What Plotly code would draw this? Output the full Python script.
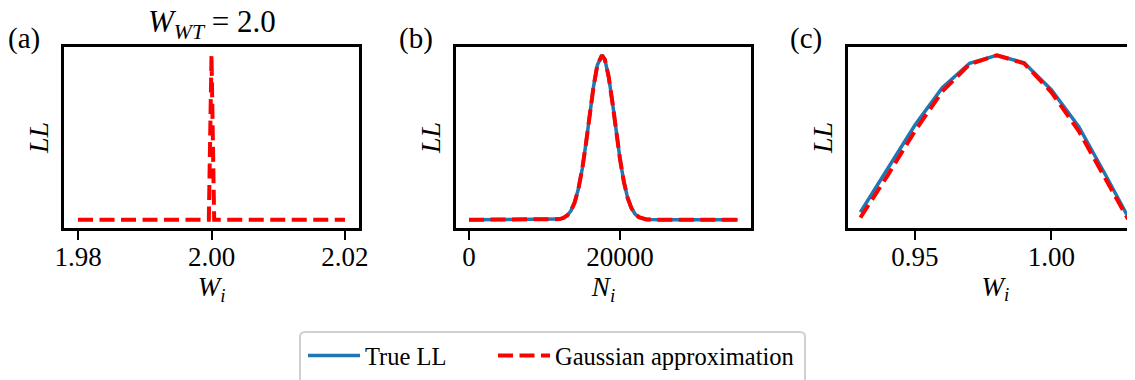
# Likelihood profiles: true LL versus its Gaussian approximation, three panels
import plotly.graph_objects as go

# (a) W_i around W_WT = 2.0 -- only the Gaussian approximation is visible
w_a = [1.98, 1.9996, 2.0, 2.0004, 2.02]
gauss_a = [0.0, 0.0, 1.0, 0.0, 0.0]

# (b) N_i
n_b = [0, 4000, 8000, 10000, 11000, 11500, 12000, 12500, 13000, 13500, 14000,
       14500, 15000, 15500, 16000, 16500, 17000, 17500, 17600, 18000, 18500,
       19000, 19500, 20000, 20500, 21000, 21500, 22000, 22500, 23000, 23500,
       24000, 24500, 26000, 30000, 35600]
true_b = [0.0, 0.0, 0.0, 0.0, 0.001, 0.002, 0.004, 0.011, 0.026, 0.055, 0.106,
          0.19, 0.31, 0.466, 0.642, 0.811, 0.94, 0.998, 1.0, 0.973, 0.869,
          0.712, 0.535, 0.369, 0.233, 0.135, 0.072, 0.035, 0.016, 0.007, 0.002,
          0.001, 0.0, 0.0, 0.0, 0.0]
gauss_b = [0.0, 0.0, 0.0, 0.0, 0.001, 0.002, 0.004, 0.011, 0.026, 0.055, 0.106,
           0.19, 0.31, 0.466, 0.642, 0.811, 0.94, 0.998, 1.0, 0.973, 0.869,
           0.712, 0.535, 0.369, 0.233, 0.135, 0.072, 0.035, 0.016, 0.007, 0.002,
           0.001, 0.0, 0.0, 0.0, 0.0]

# (c) W_i around the maximum
w_c = [0.93, 0.94, 0.95, 0.96, 0.97, 0.98, 0.99, 1.00, 1.01, 1.02, 1.028]
true_c = [0.046, 0.309, 0.576, 0.803, 0.951, 1.0, 0.954, 0.789, 0.566, 0.266, 0.019]
gauss_c = [0.013, 0.27, 0.54, 0.78, 0.945, 1.0, 0.95, 0.775, 0.539, 0.24, 0.005]

BLUE = "#1f77b4"
RED = "#ff0000"
DASH = "15px,6.5px"
FONT = "Liberation Serif"
W, H = 1135, 380
OFF = 8  # page body margin pushes the plot 8px right and down


def px_x(p):
    return (p - OFF) / W


def px_y(p):
    return 1 - (p - OFF) / H


fig = go.Figure()

# panel (a)
fig.add_trace(go.Scatter(x=w_a, y=gauss_a, mode="lines", xaxis="x", yaxis="y",
                         line=dict(color=RED, width=4, dash=DASH), showlegend=False))
# panel (b)
fig.add_trace(go.Scatter(x=n_b, y=true_b, mode="lines", xaxis="x2", yaxis="y2",
                         name="True LL", legend="legend",
                         line=dict(color=BLUE, width=3.5)))
fig.add_trace(go.Scatter(x=n_b, y=gauss_b, mode="lines", xaxis="x2", yaxis="y2",
                         name="Gaussian approximation", legend="legend2",
                         line=dict(color=RED, width=4, dash=DASH)))
# panel (c)
fig.add_trace(go.Scatter(x=w_c, y=true_c, mode="lines", xaxis="x3", yaxis="y3",
                         line=dict(color=BLUE, width=3.5), showlegend=False))
fig.add_trace(go.Scatter(x=w_c, y=gauss_c, mode="lines", xaxis="x3", yaxis="y3",
                         line=dict(color=RED, width=4, dash=DASH), showlegend=False))

ydom = [px_y(228), px_y(47)]
xax = dict(showline=True, linecolor="black", linewidth=2.5, mirror=True,
           ticks="outside", ticklen=9, tickwidth=2, tickcolor="black",
           showgrid=False, zeroline=False, automargin=False,
           ticklabelstandoff=-6,
           tickfont=dict(family=FONT, size=27, color="black"),
           title_font=dict(family=FONT, size=27, color="black"))
yax = dict(showline=True, linecolor="black", linewidth=2.5, mirror=True,
           ticks="", showticklabels=False, showgrid=False, zeroline=False,
           automargin=False, range=[-0.05, 1.05], domain=ydom,
           title_font=dict(family=FONT, size=28, color="black"),
           title_standoff=5)

leg = dict(orientation="h", xanchor="left", yanchor="top",
           bgcolor="rgba(0,0,0,0)", borderwidth=0,
           font=dict(family=FONT, size=24.5, color="black"), itemwidth=52)

fig.update_layout(
    width=W, height=H, autosize=False,
    margin=dict(l=0, r=0, t=0, b=0, autoexpand=False),
    paper_bgcolor="white", plot_bgcolor="white",
    font=dict(family=FONT, color="black"),
    xaxis=dict(xax, domain=[px_x(64), px_x(359)], range=[1.9779, 2.0221],
               tickvals=[1.98, 2.00, 2.02], tickformat=".2f", anchor="y",
               title=dict(text="<i>W</i><sub><i>i</i></sub>", standoff=6)),
    yaxis=dict(yax, anchor="x", title=dict(text="<i>LL</i>")),
    xaxis2=dict(xax, domain=[px_x(456), px_x(751)], range=[-1722, 37351],
                tickvals=[0, 20000], tickformat="d", anchor="y2",
                title=dict(text="<i>N</i><sub><i>i</i></sub>", standoff=6)),
    yaxis2=dict(yax, anchor="x2", title=dict(text="<i>LL</i>")),
    xaxis3=dict(xax, domain=[px_x(847.7), 1.0], range=[0.92535, 1.03352],
                tickvals=[0.95, 1.00], tickformat=".2f", anchor="y3",
                title=dict(text="<i>W</i><sub><i>i</i></sub>", standoff=6)),
    yaxis3=dict(yax, anchor="x3", mirror=False, title=dict(text="<i>LL</i>")),
    legend=dict(leg, x=px_x(303), y=px_y(333)),
    legend2=dict(leg, x=px_x(493), y=px_y(333)),
)

# legend frame around both legend groups (rounded light grey box)
x0, x1, y0, y1, r = px_x(300), px_x(805), px_y(332), px_y(392), 5
rx, ry = r / W, r / H
frame = (f"M {x0 + rx},{y0} L {x1 - rx},{y0} Q {x1},{y0} {x1},{y0 - ry} "
         f"L {x1},{y1 + ry} Q {x1},{y1} {x1 - rx},{y1} L {x0 + rx},{y1} "
         f"Q {x0},{y1} {x0},{y1 + ry} L {x0},{y0 - ry} Q {x0},{y0} {x0 + rx},{y0} Z")
fig.add_shape(type="path", path=frame, xref="paper", yref="paper",
              line=dict(color="#d0d0d0", width=2), layer="above")

labels = [("(a)", 23.5), ("(b)", 415.5), ("(c)", 806)]
for txt, xc in labels:
    fig.add_annotation(text=txt, x=px_x(xc), y=px_y(38), xref="paper", yref="paper",
                       xanchor="center", yanchor="middle", showarrow=False,
                       font=dict(family=FONT, size=29, color="black"))

fig.add_annotation(text="<i>W</i><sub><i>WT</i></sub> = 2.0", x=px_x(211.5), y=px_y(24),
                   xref="paper", yref="paper", xanchor="center", yanchor="middle",
                   showarrow=False, font=dict(family=FONT, size=31, color="black"))

fig.write_html("out.html")
